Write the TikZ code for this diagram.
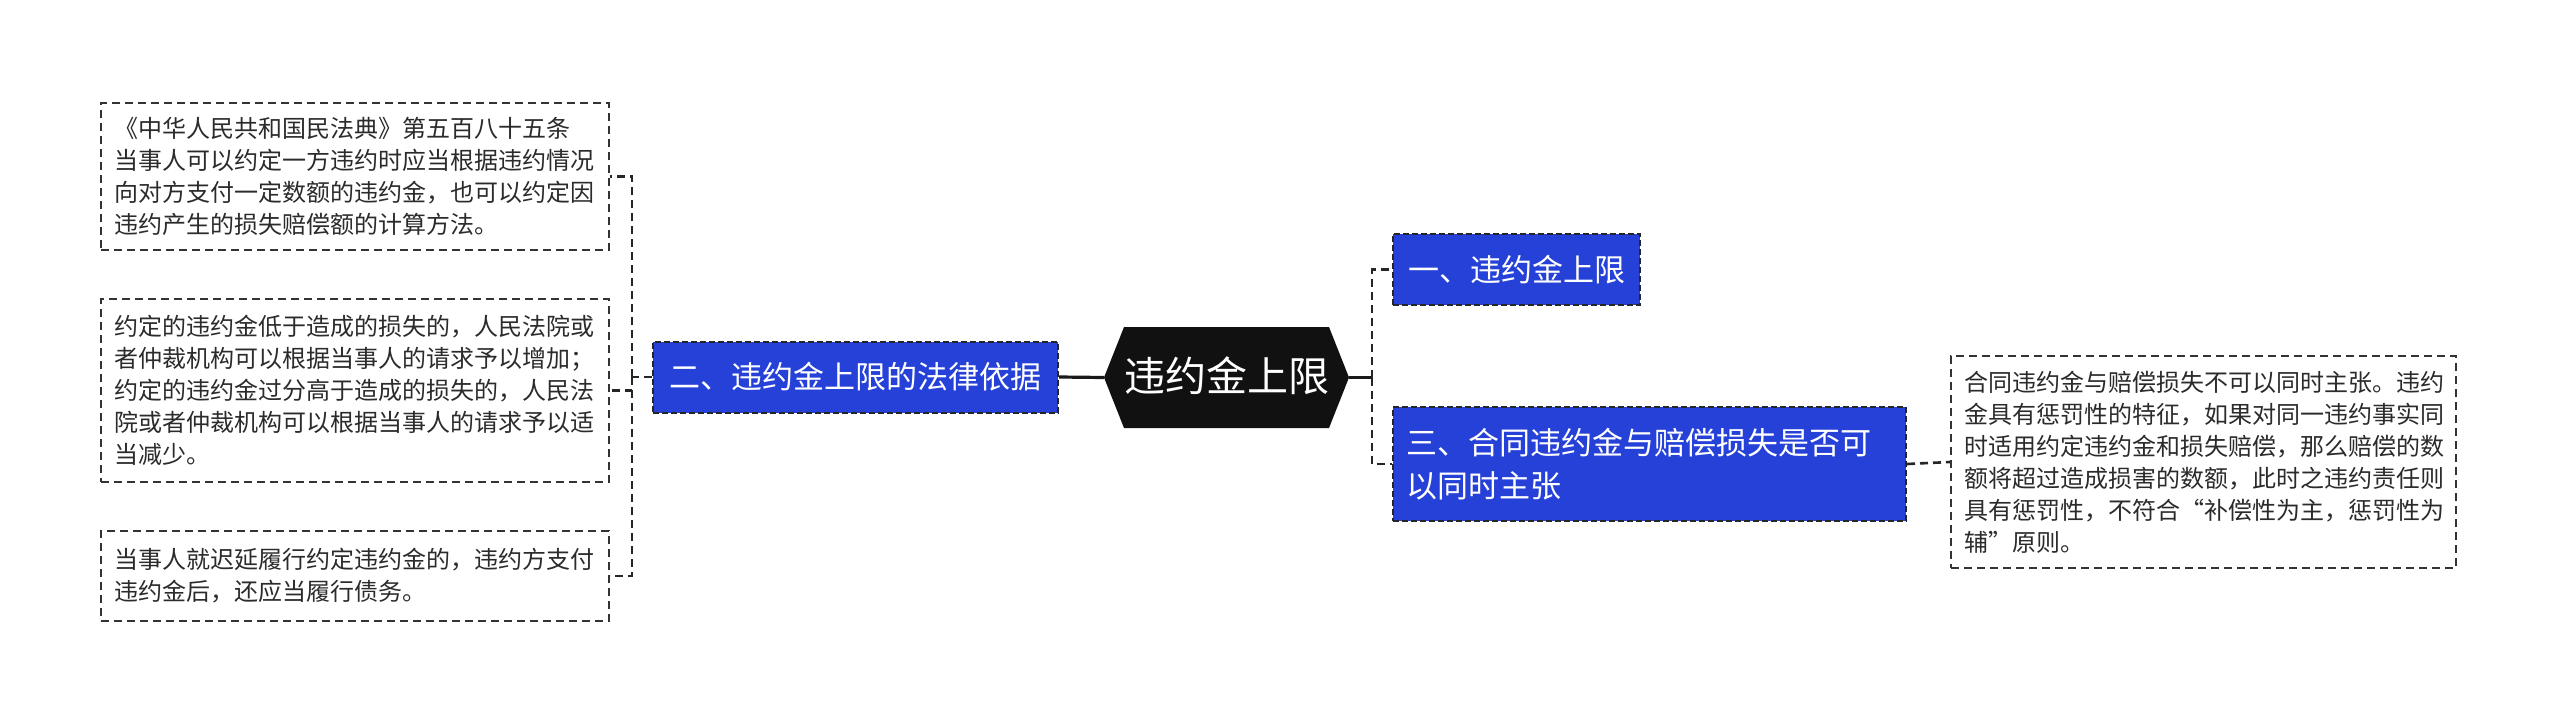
\documentclass[tikz,border=0pt]{standalone}
\usepackage{fontspec}
\newfontfamily\cjk{Noto Sans CJK SC}
\definecolor{nodeblue}{HTML}{2541D8}
\definecolor{txtgray}{HTML}{2B2B2B}
\definecolor{rootblack}{HTML}{111111}
\begin{document}
\begin{tikzpicture}[x=1pt,y=-1pt,
  dashline/.style={draw=black!85,line width=2.6pt,dash pattern=on 8pt off 5pt},
  leafbox/.style={draw=black!80,line width=2pt,dash pattern=on 8pt off 5pt,fill=white,
    text=txtgray,font=\cjk\fontsize{24}{32}\selectfont,align=left,
    inner xsep=13pt,inner ysep=0pt,anchor=center},
  bluebox/.style={draw=black!85,line width=2pt,dash pattern=on 6pt off 3pt,fill=nodeblue,
    text=white,font=\cjk\fontsize{31}{43}\selectfont,align=left,
    inner xsep=13pt,inner ysep=0pt,anchor=center},
  solidline/.style={draw=black!90,line width=3.2pt}
]
\useasboundingbox (0,0) rectangle (2560,723);
\fill[white] (0,0) rectangle (2560,723);

% root hexagon
\fill[rootblack] (1104,377.5) -- (1124,327) -- (1329,327) -- (1349,377.5) -- (1329,428) -- (1124,428) -- cycle;
\node[text=white,font=\cjk\fontsize{41}{48}\selectfont] (roottext) at (1226.5,376) {违约金上限};
\coordinate (rootW) at (1104,377.5);
\coordinate (rootE) at (1349,377.5);

% blue nodes
\node[bluebox,minimum width=405pt,minimum height=71pt] (n2) at (855.5,377) {二、违约金上限的法律依据};
\node[bluebox,minimum width=247pt,minimum height=71pt] (n1) at (1516.5,269.5) {一、违约金上限};
\node[bluebox,minimum width=513pt,minimum height=114pt,text width=487pt] (n3) at (1649.5,464) {三、合同违约金与赔偿损失是否可\\以同时主张};

% leaf boxes
\node[leafbox,minimum width=508pt,minimum height=147pt,text width=482pt] (b1) at (355,176.5) {《中华人民共和国民法典》第五百八十五条\\当事人可以约定一方违约时应当根据违约情况\\向对方支付一定数额的违约金，也可以约定因\\违约产生的损失赔偿额的计算方法。};
\node[leafbox,minimum width=508pt,minimum height=183pt,text width=482pt] (b2) at (355,390.5) {约定的违约金低于造成的损失的，人民法院或\\者仲裁机构可以根据当事人的请求予以增加；\\约定的违约金过分高于造成的损失的，人民法\\院或者仲裁机构可以根据当事人的请求予以适\\当减少。};
\node[leafbox,minimum width=508pt,minimum height=90pt,text width=482pt] (b3) at (355,576) {当事人就迟延履行约定违约金的，违约方支付\\违约金后，还应当履行债务。};
\node[leafbox,minimum width=505pt,minimum height=212pt,text width=479pt] (rb) at (2203.5,462) {合同违约金与赔偿损失不可以同时主张。违约\\金具有惩罚性的特征，如果对同一违约事实同\\时适用约定违约金和损失赔偿，那么赔偿的数\\额将超过造成损害的数额，此时之违约责任则\\具有惩罚性，不符合“补偿性为主，惩罚性为\\辅”原则。};

% connectors
\coordinate (lbr) at (632,377);
\coordinate (rbr) at (1372,377.5);
\draw[solidline] (rootW) -- (n2.east);
\draw[dashline] (n2.west) -- (lbr);
\draw[dashline] (lbr) |- (b1.east);
\draw[dashline] (lbr) |- (b2.east);
\draw[dashline] (lbr) |- (b3.east);
\draw[solidline] (rootE) -- (rbr);
\draw[dashline] (rbr) |- (n1.west);
\draw[dashline] (rbr) |- (n3.west);
\draw[dashline] (n3.east) -- (rb.west);
\end{tikzpicture}
\end{document}
